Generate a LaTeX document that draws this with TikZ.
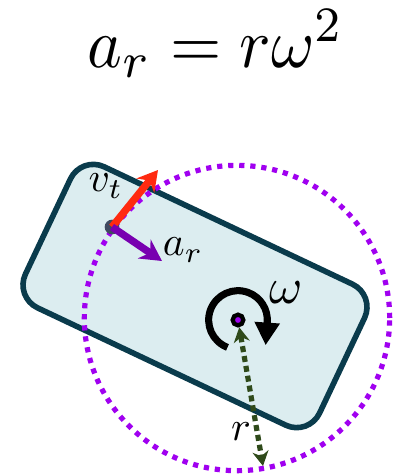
\documentclass[tikz,border=0pt]{standalone}
\usepackage{amsmath}
\usetikzlibrary{arrows.meta, positioning}

\definecolor{bodyfill}{HTML}{DCEDF0}
\definecolor{bodyedge}{HTML}{0A3B4C}
\definecolor{orbitpurple}{HTML}{A000F0}
\definecolor{accpurple}{HTML}{7800B0}
\definecolor{velred}{HTML}{FF2A10}
\definecolor{radgreen}{HTML}{2F4A1A}
\definecolor{dotgray}{HTML}{404A60}

\begin{document}
\begin{tikzpicture}[
    x=0.75pt, y=0.75pt,
    % rigid body and the path of its point
    body/.style={rectangle, rounded corners=19pt, draw=bodyedge, fill=bodyfill,
                 line width=4.2pt, minimum width=244pt, minimum height=117pt},
    orbit/.style={draw=orbitpurple, line width=3.9pt, dash pattern=on 3.9pt off 4.4pt},
    % vectors
    vel/.style={draw=velred, line width=5.5pt, -{Stealth[length=15pt,width=17pt]}},
    acc/.style={draw=accpurple, line width=5.5pt, -{Stealth[length=16pt,width=17pt]}},
    rad/.style={draw=radgreen, line width=3.9pt, dash pattern=on 4.5pt off 3pt,
                {Stealth[length=11pt,width=12pt]}-{Stealth[length=11pt,width=12pt]}},
    spin/.style={draw=black, line width=5.3pt, -{Triangle[length=17pt,width=18pt]}},
    % points and labels
    point/.style={circle, fill=dotgray, inner sep=0pt, minimum size=11pt},
    pivot/.style={circle, draw=black, fill=orbitpurple, line width=3.2pt, inner sep=0pt, minimum size=8pt},
    lbl/.style={inner sep=0pt}
]
\useasboundingbox (0,0) rectangle (397,-476);

%% ── Formula ─────────────────────────────────────────────────
\node (formula) [anchor=base] at (216,-67) {\scalebox{4.95}[5.3]{$a_r = r\omega^2$}};

%% ── Body, path and points ───────────────────────────────────
\node (block) [body, rotate=-25.3] at (195,-296) {};
\node (ctr) [pivot] at (238,-320) {};
\draw [orbit] (237,-318) circle[radius=114.5pt];
\node (pt) [point] at (112,-227) {};

\coordinate (vtip) at (158,-170);
\coordinate (atip) at (162,-261);
\coordinate (rim) at (263,-466);

%% ── Vectors ─────────────────────────────────────────────────
\draw [vel] (pt.center) -- (vtip);
\draw [acc] (pt.center) -- (atip);
\draw [rad] (ctr) -- (rim);
\draw [spin] (ctr.center) ++(249:22pt) arc[start angle=249, end angle=-5, radius=22pt] -- ++(-1.2pt,-17pt);

%% ── Labels ──────────────────────────────────────────────────
\node (vlbl) [lbl] at (106,-186) {\scalebox{3.1}{$v_t$}};
\node (albl) [lbl] at (183,-250) {\scalebox{3.1}{$a_r$}};
\node (wlbl) [lbl] at (286,-293) {\scalebox{3.8}{$\omega$}};
\node (rlbl) [lbl] at (241,-432) {\scalebox{3.1}{$r$}};
\end{tikzpicture}
\end{document}
